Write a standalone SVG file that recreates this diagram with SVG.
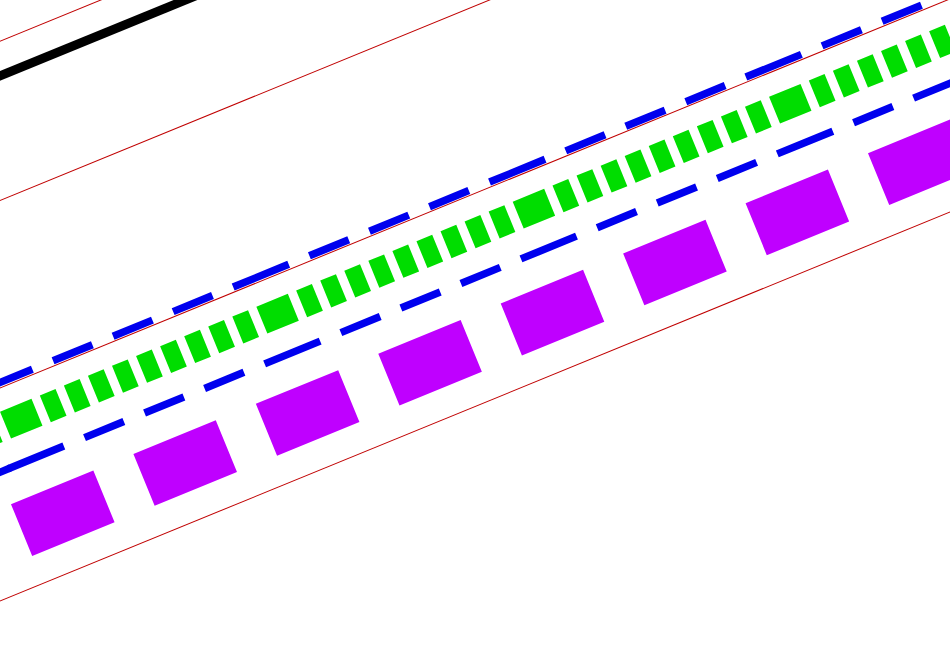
<svg xmlns="http://www.w3.org/2000/svg" width="950" height="646" viewBox="0 0 950 646">
  <style>
    .red { stroke: #c00000; stroke-width: 1; fill: none; }
    .black { stroke: #000000; stroke-width: 9; fill: none; }
    .blue { stroke: #0000ee; stroke-width: 7.5; fill: none; }
    .bdash { stroke-dasharray: 60 22.375 42.5 22.375 42.5 22.375 42.5 22.375; }
    .green { stroke: #00dd00; stroke-width: 29; fill: none; stroke-dasharray: 34 9 17 9 17 9 17 9 17 9 17 9 17 9 17 9 17 9 17 9; }
    .purple { stroke: #bf00ff; stroke-width: 56; fill: none; stroke-dasharray: 89 43.3; }
  </style>
  <rect width="950" height="646" fill="#ffffff"/>
  <g id="scene" transform="rotate(-22.27)">
    <line class="red" x1="-500" y1="38.2" x2="1100" y2="38.2"/>
    <line class="black" x1="-500" y1="70.3" x2="1100" y2="70.3"/>
    <line class="red" x1="-500" y1="185.5" x2="1100" y2="185.5"/>
    <line class="red" x1="-500" y1="359" x2="1100" y2="359"/>
    <line class="blue bdash" x1="-447" y1="354" x2="1100" y2="354"/>
    <line class="green" x1="-433" y1="395.5" x2="1100" y2="395.5"/>
    <line class="blue" x1="-200" y1="437" x2="-168" y2="437"/>
    <line class="blue bdash" x1="-447" y1="437" x2="1100" y2="437"/>
    <line class="purple" x1="-445.5" y1="498.7" x2="1100" y2="498.7"/>
    <line class="red" x1="-500" y1="556.2" x2="1100" y2="556.2"/>
  </g>
</svg>
